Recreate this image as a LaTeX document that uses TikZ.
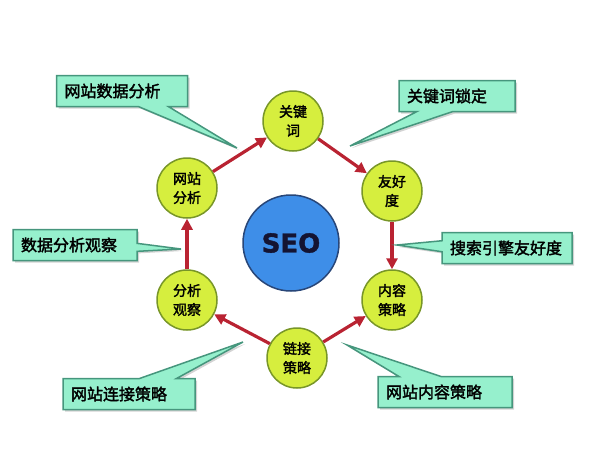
\documentclass[tikz,border=0pt]{standalone}
\usepackage{fontspec}
\newfontfamily\cjk[FakeBold=2]{Noto Sans CJK SC}
\newfontfamily\seofont[BoldFeatures={FakeBold=1.5}]{DejaVu Sans}
\usetikzlibrary{shapes.callouts,shadows,arrows.meta}

\definecolor{ballgreen}{RGB}{214,238,62}
\definecolor{balledge}{RGB}{120,150,40}
\definecolor{seoblue}{RGB}{62,142,232}
\definecolor{seoedge}{RGB}{40,70,120}
\definecolor{seotext}{RGB}{20,20,50}
\definecolor{boxfill}{RGB}{150,240,205}
\definecolor{boxedge}{RGB}{70,150,125}
\definecolor{arrowred}{RGB}{185,35,50}

\tikzset{
	ball/.style={circle, draw=balledge, line width=1.5pt, fill=ballgreen, minimum size=60pt, inner sep=0pt, align=center, font=\cjk\fontsize{14}{19}\selectfont},
	callbox/.style={rectangle callout, draw=boxedge, line width=1.5pt, fill=boxfill, inner xsep=8pt, inner ysep=0pt, minimum height=31pt, text width=#1, align=left, font=\cjk\fontsize{16}{18}\selectfont, drop shadow={shadow xshift=2pt, shadow yshift=-2pt, opacity=0.35}},
	link/.style={-{Triangle[length=11pt,width=11pt]}, line width=3.2pt, draw=arrowred}
}

\begin{document}
\begin{tikzpicture}[x=1pt, y=-1pt]
			\useasboundingbox (0,0) rectangle (594,448);
			% Nodes
			\node[circle, draw=seoedge, line width=1.5pt, fill=seoblue, minimum size=96pt, font=\seofont\bfseries\fontsize{26}{26}\selectfont, text=seotext] (seo) at (291,243) {SEO};
			\node[ball] (kw) at (293,121) {关键\\词};
			\node[ball] (fr) at (392,191) {友好\\度};
			\node[ball] (nr) at (392,300) {内容\\策略};
			\node[ball] (lj) at (297,358) {链接\\策略};
			\node[ball] (gc) at (187,300) {分析\\观察};
			\node[ball] (wz) at (187,188) {网站\\分析};
			% Arrows
			\draw[link] (wz) -- (kw);
			\draw[link] (kw) -- (fr);
			\draw[link] (fr) -- (nr);
			\draw[link] (lj) -- (nr);
			\draw[link] (lj) -- (gc);
			\draw[link] (gc) -- (wz);
			% Callouts
			\coordinate (p1) at (237,148);
			\coordinate (p2) at (350,146);
			\coordinate (p3) at (181,249);
			\coordinate (p4) at (397,245);
			\coordinate (p5) at (243,342);
			\coordinate (p6) at (347,345);
			\node[callbox=115pt, callout absolute pointer={(p1)}, callout pointer width=30pt] (c1) at (122,91) {网站数据分析};
			\node[callbox=100pt, callout absolute pointer={(p2)}, callout pointer width=36pt] (c2) at (457,96) {关键词锁定};
			\node[callbox=108pt, callout absolute pointer={(p3)}, callout pointer width=8pt] (c3) at (75,245) {数据分析观察};
			\node[callbox=114pt, callout absolute pointer={(p4)}, callout pointer width=11pt] (c4) at (507,248) {搜索引擎友好度};
			\node[callbox=116pt, callout absolute pointer={(p5)}, callout pointer width=37pt] (c5) at (129,394) {网站连接策略};
			\node[callbox=118pt, callout absolute pointer={(p6)}, callout pointer width=42pt] (c6) at (445,392) {网站内容策略};
		\end{tikzpicture}
\end{document}
